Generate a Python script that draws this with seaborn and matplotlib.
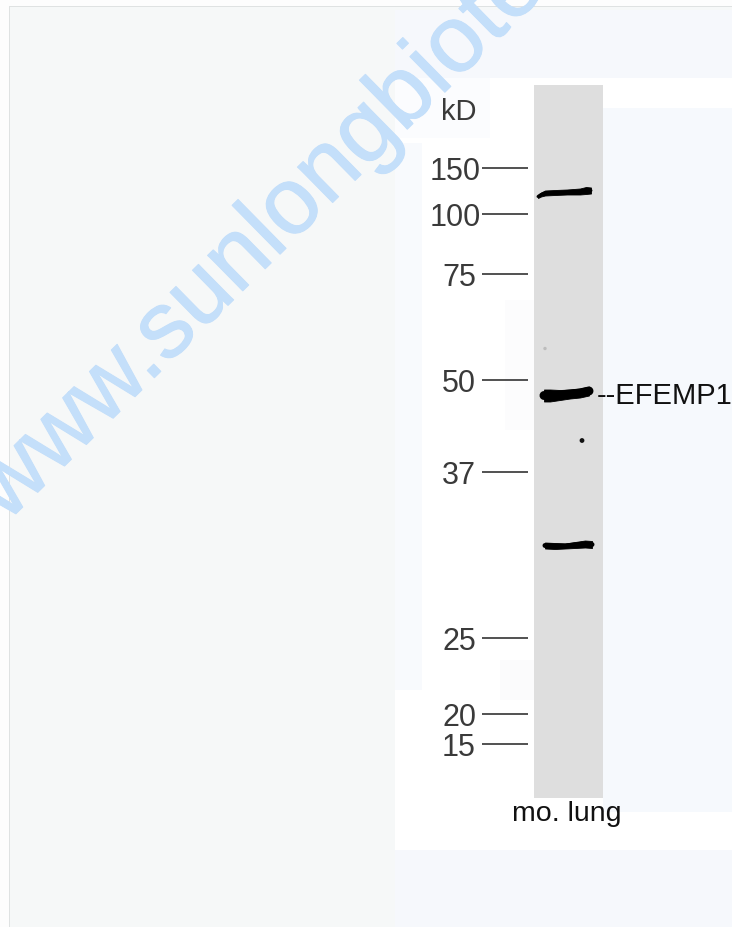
import numpy as np
import pandas as pd
import seaborn as sns
import matplotlib.pyplot as plt
import matplotlib.patheffects as pe
from matplotlib.patches import Rectangle

# ladder (kD, migration position)
ladder_kd = ['150', '100', '75', '50', '37', '25', '20', '15']
ladder_pos = [168, 214, 274, 380, 472, 638, 714, 744]

# bands: position along lane, migration position, thickness
band1_x = [538, 541, 545, 555, 567, 580, 586, 591]
band1_y = [197, 195, 193.5, 193, 192.5, 192, 191, 191]
band1_t = [3, 4, 5, 5, 5, 6, 7, 6]
band2_x = [544, 550, 560, 570, 580, 589]
band2_y = [396, 396, 395.5, 394.5, 393.5, 391.5]
band2_t = [12, 12, 10, 9, 9, 9]
band3_x = [545, 555, 565, 575, 585, 592]
band3_y = [546, 546.5, 546.5, 545.5, 544.5, 545]
band3_t = [6, 6, 5, 6, 7, 7]
spot_x = [582, 545]
spot_y = [441, 349]

sns.set_theme(style='white')
plt.rcParams['font.family'] = ['Liberation Sans', 'DejaVu Sans']

fig = plt.figure(figsize=(7.32, 9.28), dpi=100, facecolor='#fdfdfd')
ax = fig.add_axes([0, 0, 1, 1])
ax.axis('off')


def box(x, y, w, h, c, z=1):
    ax.add_patch(Rectangle((x, y), w, h, fc=c, ec='none', zorder=z))


# page background
box(9, 6, 723, 922, '#dfe2e2', 0)
box(10, 7, 722, 921, '#f6f8f8', 1)
box(395, 10, 337, 918, '#f6f8fc', 1)
box(395, 78, 337, 772, '#ffffff', 2)
box(395, 78, 95, 60, '#fbfcfe', 2)
box(395, 143, 27, 547, '#f8fafd', 2)
box(603, 108, 129, 704, '#f6f9fd', 2)
box(505, 300, 29, 130, '#fcfcfd', 2)
box(500, 660, 34, 40, '#fbfbfc', 2)

# lane
box(534, 85, 69, 713, '#dedede', 3)

# watermark
wm = ax.text(6, 524, 'www.sunlongbiote', fontsize=68, color='#c4dffa',
             rotation=44.5, rotation_mode='anchor', ha='left', va='baseline',
             clip_on=True, zorder=4)
wm.set_path_effects([pe.withStroke(linewidth=0.8, foreground='#c4dffa')])

# ladder
for kd, pos in zip(ladder_kd, ladder_pos):
    ax.text(481 if len(kd) == 3 else 476, pos, kd, fontsize=22, color='#3a3a3a',
            ha='right', va='center_baseline', zorder=5)
    ax.hlines(pos, 482, 528, color='#222222', lw=1.1, zorder=5)
ax.text(441, 108, 'kD', fontsize=21, color='#3a3a3a', ha='left', va='center_baseline', zorder=5)

# bands
for bx, by, bt in [(band1_x, band1_y, band1_t), (band2_x, band2_y, band2_t), (band3_x, band3_y, band3_t)]:
    df = pd.DataFrame({'x': bx, 'y': by, 't': bt})
    sns.lineplot(data=df, x='x', y='y', ax=ax, color='black', lw=min(bt) * 0.72, sort=False,
                 estimator=None, zorder=6, solid_capstyle='round')
    ax.fill_between(df['x'], df['y'] - df['t'] / 2, df['y'] + df['t'] / 2,
                    color='black', lw=0.6, zorder=6)

sns.scatterplot(x=spot_x, y=spot_y, ax=ax, s=[12, 6], c=['#111111', '#bdbdbd'],
                linewidth=0, zorder=6, legend=False)

# labels
ax.text(597, 392.5, '--EFEMP1', fontsize=21, color='#111111', ha='left', va='center_baseline', zorder=5)
ax.text(566.5, 821, 'mo. lung', fontsize=20.5, color='#111111', ha='center', va='baseline', zorder=5)

ax.set_xlim(0, 732)
ax.set_ylim(927.5, -0.5)
ax.set_xlabel('')
ax.set_ylabel('')
fig.savefig('out.png', dpi=100)
